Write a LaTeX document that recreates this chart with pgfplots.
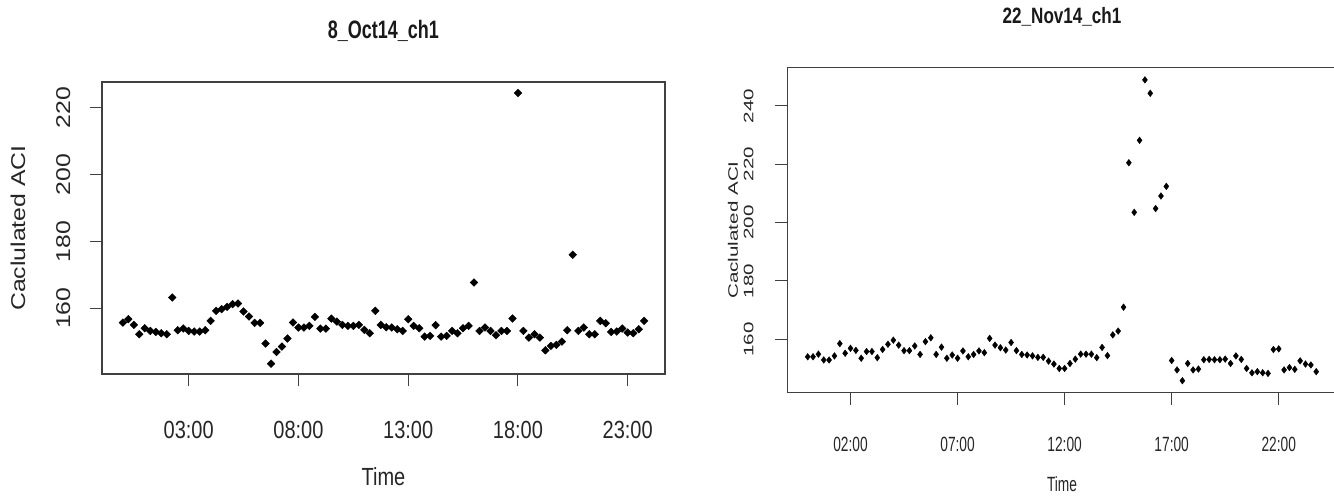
\documentclass[border=0pt]{standalone}
\usepackage{pgfplots}
\pgfplotsset{compat=1.18}
\usepackage{pgfplotstable}
\usepackage{fontspec}
\setmainfont{Liberation Sans}
\usepackage{graphicx}

\newcommand\ls[1]{\scalebox{1}[1.24]{#1}}
\newcommand\lr[1]{\scalebox{1.24}[1]{#1}}
\newcommand\rs[1]{\scalebox{1}[1.5]{#1}}
\newcommand\rr[1]{\scalebox{1.5}[1]{#1}}

\pgfplotstableread{
h v
0 155.7
0.25 156.7
0.5 155.0
0.75 152.2
1 154.0
1.25 153.2
1.5 152.9
1.75 152.5
2 152.2
2.25 163.2
2.5 153.4
2.75 153.9
3 153.2
3.25 153.0
3.5 153.0
3.75 153.4
4 156.2
4.25 159.2
4.5 159.7
4.75 160.4
5 161.2
5.25 161.4
5.5 159.0
5.75 157.5
6 155.6
6.25 155.6
6.5 149.4
6.75 143.4
7 146.9
7.25 148.5
7.5 150.9
7.75 155.7
8 154.2
8.25 154.2
8.5 154.7
8.75 157.4
9 153.9
9.25 153.9
9.5 156.9
9.75 156.0
10 155.0
10.25 154.7
10.5 154.7
10.75 155.0
11 153.5
11.25 152.5
11.5 159.2
11.75 155.0
12 154.3
12.25 154.2
12.5 153.7
12.75 153.2
13 156.7
13.25 154.7
13.5 154.0
13.75 151.5
14 151.7
14.25 154.9
14.5 151.5
14.75 151.7
15 153.2
15.25 152.5
15.5 154.0
15.75 154.7
16 167.7
16.25 153.2
16.5 154.2
16.75 153.2
17 151.9
17.25 153.2
17.5 153.2
17.75 156.9
18 224.4
18.25 153.2
18.5 151.2
18.75 152.2
19 151.2
19.25 147.4
19.5 148.7
19.75 149.0
20 150.0
20.25 153.4
20.5 176.0
20.75 153.2
21 154.2
21.25 152.2
21.5 152.2
21.75 156.2
22 155.5
22.25 152.9
22.5 153.0
22.75 153.9
23 152.7
23.25 152.5
23.5 153.7
23.75 156.2
}\leftdata

\pgfplotstableread{
h v
0 154.0
0.25 154.0
0.5 154.9
0.75 152.9
1 152.9
1.25 154.3
1.5 158.5
1.75 155.2
2 156.9
2.25 156.2
2.5 153.5
2.75 155.8
3 155.8
3.25 153.7
3.5 156.5
3.75 158.3
4 159.7
4.25 158.0
4.5 156.1
4.75 156.1
5 157.7
5.25 154.8
5.5 159.2
5.75 160.5
6 154.8
6.25 157.3
6.5 153.5
6.75 154.6
7 153.5
7.25 156.0
7.5 154.0
7.75 154.8
8 156.0
8.25 155.4
8.5 160.3
8.75 158.0
9 157.1
9.25 156.3
9.5 158.9
9.75 156.1
10 154.8
10.25 154.6
10.5 154.3
10.75 153.8
11 153.8
11.25 152.5
11.5 151.5
11.75 150.0
12 150.0
12.25 151.7
12.5 153.2
12.75 154.9
13 154.9
13.25 154.9
13.5 153.7
13.75 157.2
14 154.4
14.25 161.5
14.5 162.8
14.75 171.0
15 220.5
15.25 203.5
15.5 228.2
15.75 248.9
16 244.3
16.25 204.8
16.5 209.1
16.75 212.4
17 152.7
17.25 149.5
17.5 145.8
17.75 151.7
18 149.5
18.25 149.8
18.5 153.0
18.75 153.1
19 153.0
19.25 153.0
19.5 153.2
19.75 151.7
20 154.3
20.25 153.1
20.5 150.0
20.75 148.5
21 148.9
21.25 148.5
21.5 148.3
21.75 156.5
22 156.7
22.25 149.5
22.5 150.3
22.75 149.7
23 152.6
23.25 151.5
23.5 151.2
23.75 148.9
}\rightdata

\pgfplotsset{
  rstyle/.style={
    scale only axis,
    anchor=south west,
    xmin=-0.95, xmax=24.7,
    tick align=outside,
    tickpos=left,
    major tick length=9pt,
    axis line style={black!75, line width=0.9pt},
    every tick/.style={black!75, line width=0.8pt},
    clip=false,
  }
}

\begin{document}
\begin{tikzpicture}
\path[use as bounding box] (0,0) rectangle (1000.5pt,372pt);
\clip (0,0) rectangle (1000.5pt,372pt);

% ---------- left panel ----------
\begin{axis}[rstyle,
  at={(76.5pt,91.5pt)},
  width=422.25pt, height=219pt,
  ymin=140.3, ymax=227.7,
  xtick={3,8,13,18,23},
  xticklabels={\ls{03:00},\ls{08:00},\ls{13:00},\ls{18:00},\ls{23:00}},
  ytick={160,180,200,220},
  yticklabels={\lr{160},\lr{180},\lr{200},\lr{220}},
  xticklabel style={anchor=center, yshift=-33pt, font=\fontsize{15}{15}\selectfont, text=black!85},
  yticklabel style={xshift=-20pt, rotate=90, anchor=center, font=\fontsize{15}{15}\selectfont, text=black!85},
]
\addplot[only marks, mark=diamond*, mark size=2.9pt,
  mark options={xscale=1.33, fill=black, draw=black, line width=0.3pt}]
  table[x=h, y=v] {\leftdata};
\end{axis}

% ---------- right panel ----------
\begin{axis}[rstyle,
  at={(590.5pt,77.5pt)},
  width=411.9pt, height=244pt,
  ymin=141.7, ymax=253.2,
  xtick={2,7,12,17,22},
  xticklabels={\rs{02:00},\rs{07:00},\rs{12:00},\rs{17:00},\rs{22:00}},
  ytick={160,180,200,220,240},
  yticklabels={\rr{160},\rr{180},\rr{200},\rr{220},\rr{240}},
  xticklabel style={anchor=center, yshift=-29.5pt, font=\fontsize{10.3}{10.3}\selectfont, text=black!85},
  yticklabel style={xshift=-20pt, rotate=90, anchor=center, font=\fontsize{10.3}{10.3}\selectfont, text=black!85},
]
\addplot[only marks, mark=diamond*, mark size=2.5pt,
  mark options={fill=black, draw=black, line width=0.3pt}]
  table[x=h, y=v] {\rightdata};
\end{axis}

% ---------- titles and labels ----------
\node[font=\bfseries\fontsize{13.5}{13.5}\selectfont, text=black!90] at (287.6pt,348.75pt) {\scalebox{1}[1.4]{8\_Oct14\_ch1}};
\node[font=\fontsize{15}{15}\selectfont, text=black!85] at (287.6pt,14.25pt) {\ls{Time}};
\node[font=\fontsize{15}{15}\selectfont, text=black!85, rotate=90] at (13.5pt,201pt) {\lr{Caclulated ACI}};

\node[font=\bfseries\fontsize{12.8}{12.8}\selectfont, text=black!90] at (796.5pt,359.25pt) {\scalebox{1}[1.3]{22\_Nov14\_ch1}};
\node[font=\fontsize{10.3}{10.3}\selectfont, text=black!85] at (796.5pt,8.6pt) {\rs{Time}};
\node[font=\fontsize{10.3}{10.3}\selectfont, text=black!85, rotate=90] at (549.75pt,199.5pt) {\rr{Caclulated ACI}};
\end{tikzpicture}
\end{document}
